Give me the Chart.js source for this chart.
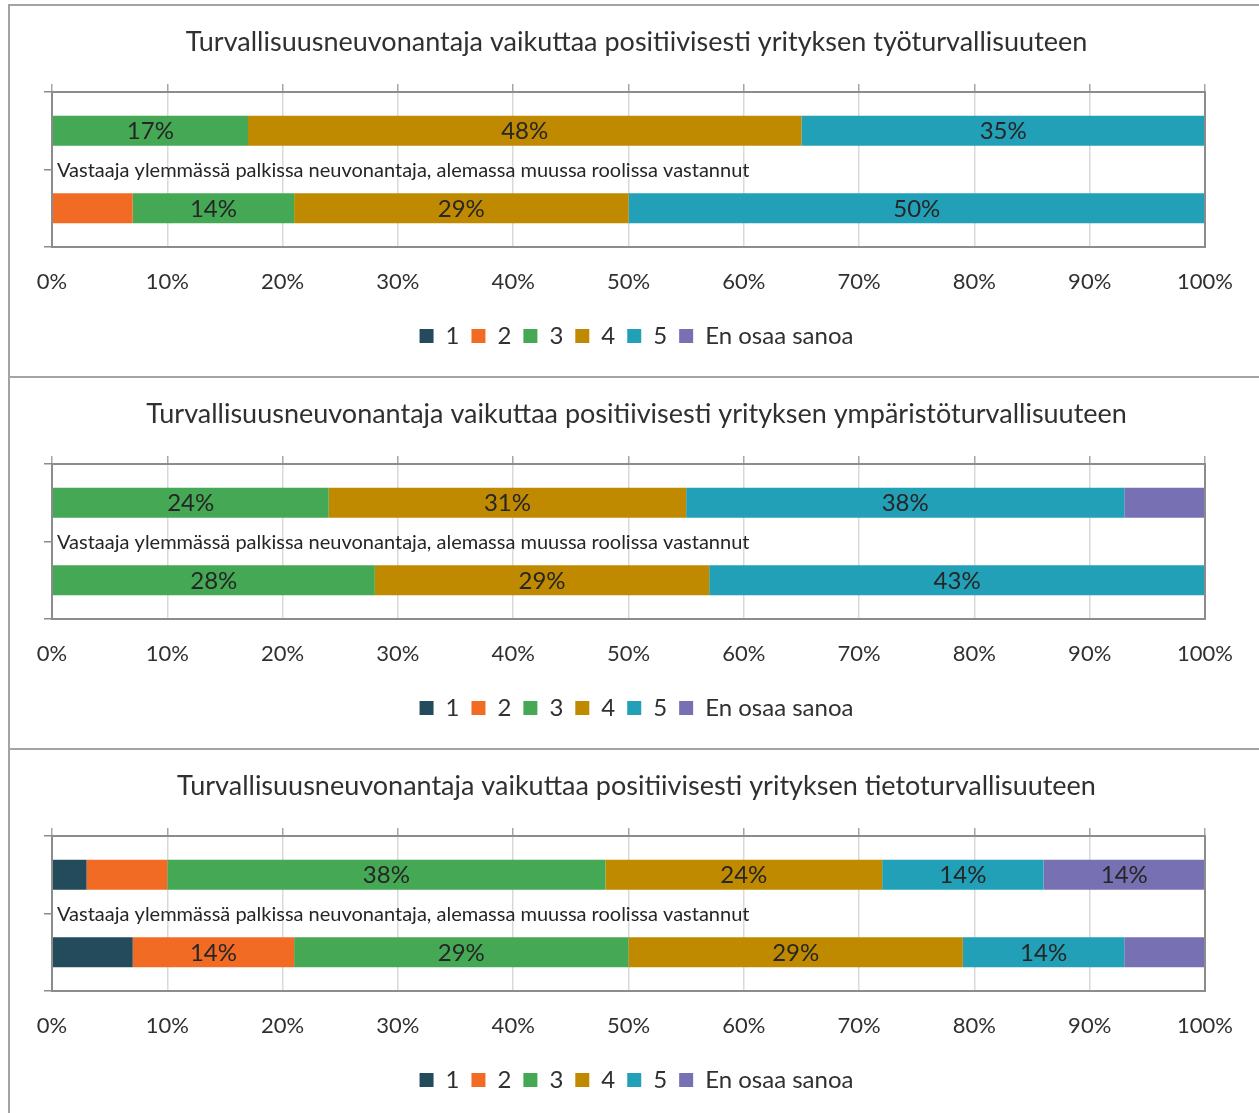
<!DOCTYPE html>
<html>
<head>
<meta charset="utf-8">
<script src="https://cdn.jsdelivr.net/npm/chart.js@4.4.1/dist/chart.umd.min.js"></script>
<style>
  body { margin: 0; background: #fff; }
  .panel { position: absolute; left: 8px; width: 1251px; height: 372px; border-top: 2px solid #a3a3a3; border-left: 2px solid #a3a3a3; box-sizing: border-box; }
  canvas { position: absolute; left: 0; }
</style>
</head>
<body>
<div class="panel" style="top:4px"></div>
<div class="panel" style="top:376px"></div>
<div class="panel" style="top:748px"></div>
<canvas id="c1" width="1259" height="372" style="top:4px"></canvas>
<canvas id="c2" width="1259" height="372" style="top:376px"></canvas>
<canvas id="c3" width="1259" height="372" style="top:748px"></canvas>
<script>
// kaksi palkkia / kuvio
const bars = ["Neuvonantaja", "Muu rooli"];
const seriesNames = ["1", "2", "3", "4", "5", "En osaa sanoa"];
const colors = ["#234b5b", "#f26b24", "#44a855", "#bf8a00", "#21a0b7", "#7771b4"];
const rowLabel = "Vastaaja ylemmässä palkissa neuvonantaja, alemassa muussa roolissa vastannut";

const titles = [
  "Turvallisuusneuvonantaja vaikuttaa positiivisesti yrityksen työturvallisuuteen",
  "Turvallisuusneuvonantaja vaikuttaa positiivisesti yrityksen ympäristöturvallisuuteen",
  "Turvallisuusneuvonantaja vaikuttaa positiivisesti yrityksen tietoturvallisuuteen",
];

// arvot sarjoittain (1..5, EOS), [ylempi, alempi]
const tyoValues = [[0, 0], [0, 7], [17, 14], [48, 29], [35, 50], [0, 0]];
const ymparistoValues = [[0, 0], [0, 0], [24, 28], [31, 29], [38, 43], [7, 0]];
const tietoValues = [[3, 7], [7, 14], [38, 29], [24, 29], [14, 14], [14, 7]];

const FONT = "Lato";

// prosentit palkkien sisään + rivin teksti + kehys
const barText = {
  id: "barText",
  afterDatasetsDraw(chart) {
    const ctx = chart.ctx;
    const a = chart.chartArea;
    ctx.save();
    ctx.font = "24px " + FONT;
    ctx.fillStyle = "#262626";
    ctx.textAlign = "center";
    ctx.textBaseline = "middle";
    chart.data.datasets.forEach((ds, i) => {
      chart.getDatasetMeta(i).data.forEach((bar, j) => {
        const v = ds.data[j];
        if (v < 10) return;
        const p = bar.getProps(["x", "y", "base"], true);
        ctx.fillText(v + "%", (p.x + p.base) / 2, p.y + 1);
      });
    });
    ctx.textAlign = "left";
    ctx.font = "20px " + FONT;
    ctx.fillText(rowLabel, a.left + 5, (a.top + a.bottom) / 2 + 1);
    ctx.strokeStyle = "#8c8c8c";
    ctx.lineWidth = 2;
    ctx.strokeRect(a.left, a.top, a.right - a.left, a.bottom - a.top);
    ctx.restore();
  },
};

function makeChart(id, title, values) {
  var ctx = document.getElementById(id).getContext("2d");
  return new Chart(ctx, {
    type: "bar",
    data: {
      labels: bars,
      datasets: seriesNames.map((name, i) => ({
        label: name,
        data: values[i],
        backgroundColor: colors[i],
        borderWidth: 0,
        barPercentage: 0.387,
        categoryPercentage: 1,
      })),
    },
    options: {
      indexAxis: "y",
      responsive: false,
      animation: false,
      layout: { padding: { left: 44, right: 30, top: 0, bottom: 18 } },
      plugins: {
        title: {
          display: true,
          text: title,
          color: "#303030",
          font: { family: FONT, size: 27, weight: "normal" },
          padding: { top: 22, bottom: 25.6 },
        },
        legend: {
          position: "bottom",
          labels: {
            color: "#303030",
            font: { family: FONT, size: 24 },
            boxWidth: 14,
            boxHeight: 14,
            padding: 12,
          },
        },
        tooltip: { enabled: false },
      },
      scales: {
        x: {
          stacked: true,
          min: 0,
          max: 100,
          ticks: {
            stepSize: 10,
            padding: 22,
            color: "#303030",
            font: { family: FONT, size: 22 },
            callback: (v) => v + "%",
          },
          grid: { color: "#d9d9d9", lineWidth: 1.5, drawTicks: false },
          border: { display: false },
          afterFit: (s) => { s.height = 65; },
        },
        x2: {
          type: "linear",
          position: "top",
          min: 0,
          max: 100,
          ticks: { display: false, stepSize: 10 },
          grid: { drawOnChartArea: false, tickLength: 8, color: "#a6a6a6", lineWidth: 1.5 },
          border: { display: false },
        },
        y: {
          stacked: true,
          ticks: { display: false },
          grid: { drawOnChartArea: false, tickLength: 8, color: "#8c8c8c", lineWidth: 1.5 },
          border: { display: false },
        },
        y2: {
          type: "category",
          position: "right",
          ticks: { display: false },
          grid: { display: false },
          border: { display: false },
          afterFit: (s) => { s.width = 24; },
        },
      },
    },
    plugins: [barText],
  });
}

makeChart("c1", titles[0], tyoValues);
makeChart("c2", titles[1], ymparistoValues);
makeChart("c3", titles[2], tietoValues);
</script>
</body>
</html>
